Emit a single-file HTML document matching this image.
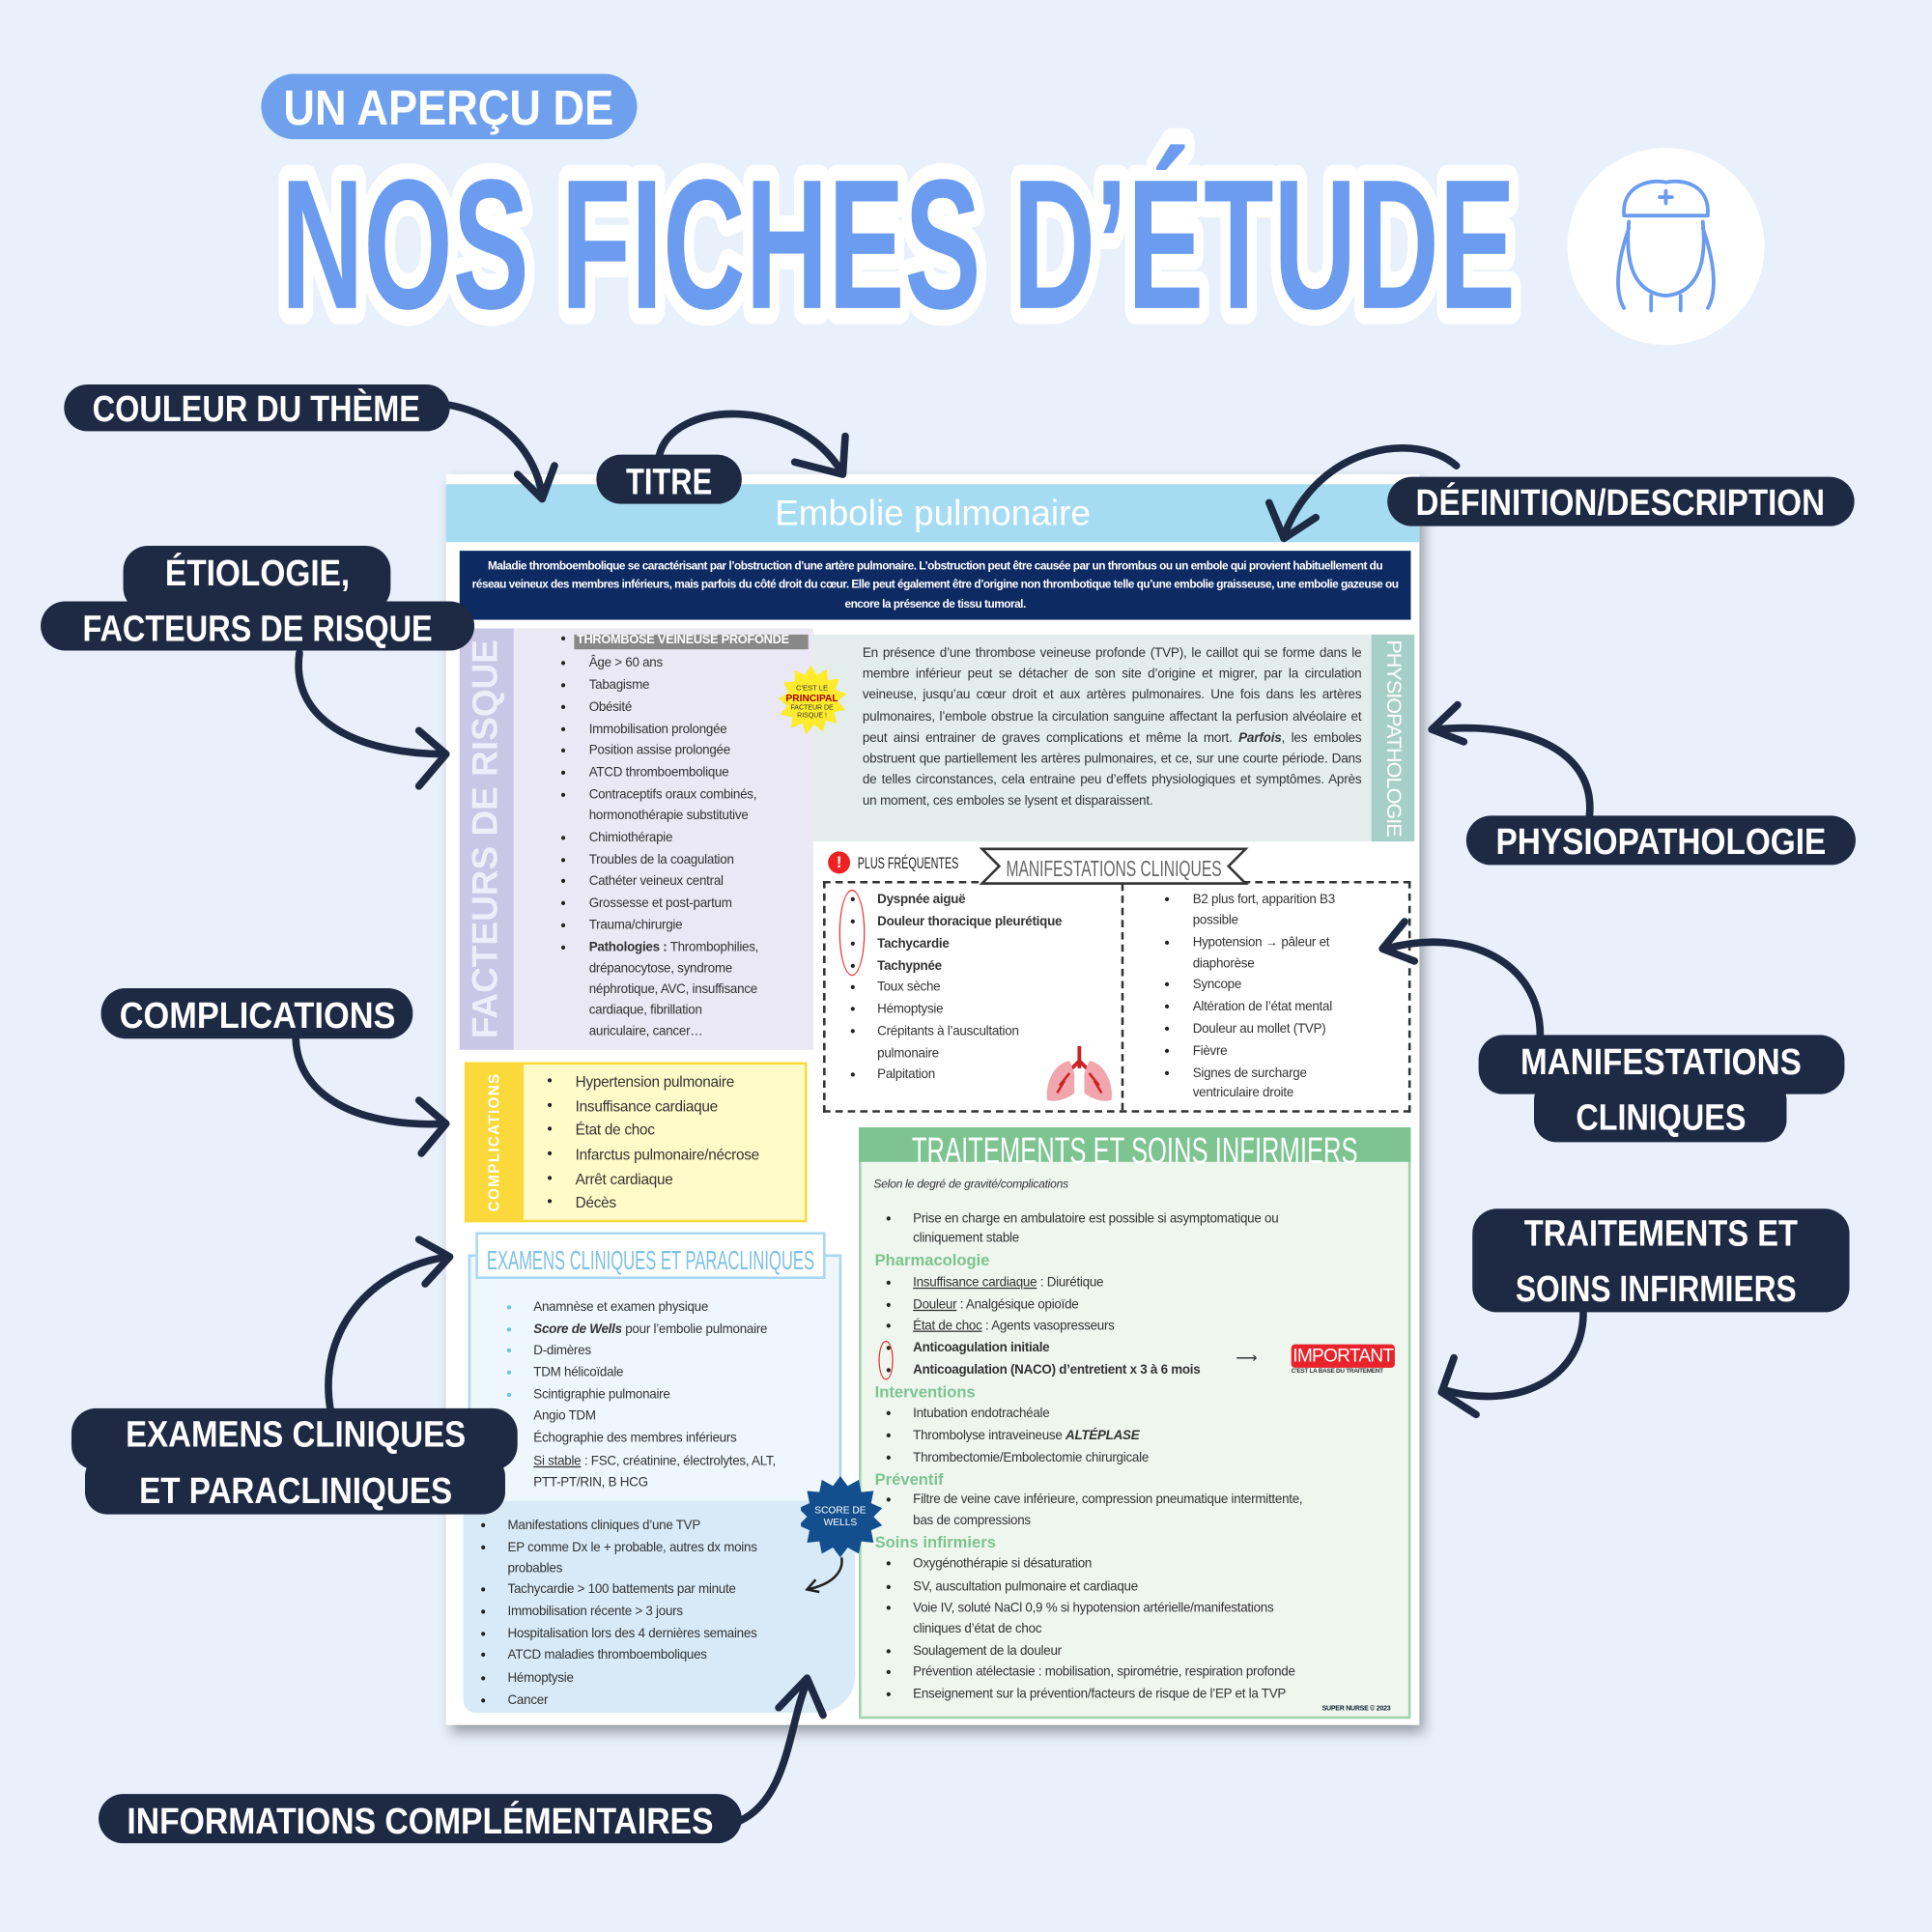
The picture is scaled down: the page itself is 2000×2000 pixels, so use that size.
<!DOCTYPE html>
<html><head><meta charset="utf-8">
<style>
*{margin:0;padding:0;box-sizing:border-box}
html,body{width:2000px;height:2000px;overflow:hidden;background:#e8f0fb}
#w{position:absolute;left:0;top:0;width:1568px;height:1568px;transform:scale(1.27551);transform-origin:0 0;font-family:"Liberation Sans",sans-serif}
.a{position:absolute}
.doc{left:362px;top:385px;width:790px;height:1015px;background:#fff;box-shadow:4px 6px 10px rgba(0,0,0,.35)}
.t{position:absolute;font-size:10.5px;color:#333;white-space:nowrap;font-family:"Liberation Sans Narrow","Liberation Sans",sans-serif;letter-spacing:-.2px}
.b{position:absolute;font-size:12px;color:#222}
.g{position:absolute;font-size:13px;font-weight:bold;color:#7cc48e;white-space:nowrap}
</style></head><body><div id="w">

<div class="a" style="left:212px;top:60px;width:305px;height:53px;background:#6fa0ee;border-radius:27px"></div>
<svg class="a" style="left:0;top:0" width="1568" height="300">
<text x="230" y="101" font-family="Liberation Sans" font-weight="bold" font-size="40" fill="#fff" textLength="268" lengthAdjust="spacingAndGlyphs">UN APERÇU DE</text>
<text x="228" y="250" font-family="Liberation Sans" font-weight="bold" font-size="150" fill="#6b9cf0" stroke="#fff" stroke-width="26" stroke-linejoin="round" paint-order="stroke fill" textLength="1002" lengthAdjust="spacingAndGlyphs">NOS FICHES D’ÉTUDE</text>
<circle cx="1352" cy="200" r="80" fill="#fff"/>
<g fill="none" stroke="#6b9cf0" stroke-width="3" stroke-linejoin="round" stroke-linecap="round">
<path d="M1318,175 C1316,150 1340,145 1352,148 C1366,145 1388,150 1386,175 Z"/>
<path d="M1347,160 h10 M1352,155 v10"/>
<path d="M1322,180 C1318,220 1330,238 1352,240 C1374,238 1386,220 1382,180"/>
<path d="M1322,185 C1310,220 1312,240 1318,250 M1382,185 C1394,220 1392,240 1386,250"/>
<path d="M1340,240 v12 M1364,240 v12"/>
</g>
</svg>

<div class="a doc">
 <div class="a" style="left:0;top:8px;width:790px;height:47px;background:#a6dcf2"></div>
 <div class="a" style="left:0;top:16px;width:790px;text-align:center;color:#fff;font-size:29px;">Embolie pulmonaire</div>
 <div class="a" style="left:11px;top:62px;width:772px;height:56px;background:#0e2a63;color:#fff;font-size:9.3px;font-weight:bold;text-align:center;line-height:15.3px;padding:5px 10px 0;letter-spacing:-.4px">Maladie thromboembolique se caractérisant par l’obstruction d’une artère pulmonaire. L’obstruction peut être causée par un thrombus ou un embole qui provient habituellement du réseau veineux des membres inférieurs, mais parfois du côté droit du cœur. Elle peut également être d’origine non thrombotique telle qu’une embolie graisseuse, une embolie gazeuse ou encore la présence de tissu tumoral.</div>
</div>

<div class="a" style="left:373px;top:510px;width:44px;height:342px;background:#c9c6e6"></div>
<div class="a" style="left:417px;top:510px;width:243px;height:342px;background:#e9e8f4"></div>
<div class="a" style="left:395px;top:681px;transform:translate(-50%,-50%) rotate(-90deg);color:#eeeefa;font-weight:bold;font-size:29px;white-space:nowrap">FACTEURS DE RISQUE</div>
<div class="a" style="left:466px;top:515px;width:190px;height:12px;background:#888;"></div>
<div class="t" style="left:468px;top:514px;color:#fff;font-weight:bold;font-size:10px">THROMBOSE VEINEUSE PROFONDE</div>
<div class="b" style="left:455px;top:511px">•</div>
<div id="fr"></div>

<div class="a" style="left:660px;top:515px;width:453px;height:168px;background:#e3eeec"></div>
<div class="a" style="left:1113px;top:515px;width:35px;height:168px;background:#a6cfc7"></div>
<div class="a" style="left:1131px;top:599px;transform:translate(-50%,-50%) rotate(90deg);color:#fff;font-size:17px;white-space:nowrap;letter-spacing:-.8px">PHYSIOPATHOLOGIE</div>
<div class="a" style="left:700px;top:522px;width:405px;font-size:10.6px;line-height:17.2px;text-align:justify;color:#333;font-family:'Liberation Sans Narrow','Liberation Sans',sans-serif;letter-spacing:-.15px">En présence d’une thrombose veineuse profonde (TVP), le caillot qui se forme dans le membre inférieur peut se détacher de son site d’origine et migrer, par la circulation veineuse, jusqu’au cœur droit et aux artères pulmonaires. Une fois dans les artères pulmonaires, l’embole obstrue la circulation sanguine affectant la perfusion alvéolaire et peut ainsi entrainer de graves complications et même la mort. <b><i>Parfois</i></b>, les emboles obstruent que partiellement les artères pulmonaires, et ce, sur une courte période. Dans de telles circonstances, cela entraine peu d’effets physiologiques et symptômes. Après un moment, ces emboles se lysent et disparaissent.</div>
<svg class="a" style="left:630px;top:538px" width="60" height="64"><polygon fill="#fdeb2c" points="28,2 33,10 41,5 42,14 51,13 48,22 57,25 50,31 56,38 47,40 49,49 40,47 38,56 31,50 24,58 21,49 12,53 13,44 3,42 9,35 2,29 10,24 6,16 15,15 15,6 23,10"/><text x="29" y="22" font-size="6" text-anchor="middle" fill="#333">C'EST LE</text><text x="29" y="31" font-size="8" text-anchor="middle" fill="#a00" font-weight="bold">PRINCIPAL</text><text x="29" y="38" font-size="5.5" text-anchor="middle" fill="#333">FACTEUR DE</text><text x="29" y="44" font-size="5.5" text-anchor="middle" fill="#333">RISQUE !</text></svg>

<div class="a" style="left:668px;top:715px;width:477px;height:188px;border:2px dashed #333"></div>
<div class="a" style="left:910px;top:717px;height:184px;border-left:2px dashed #333"></div>
<div class="a" style="left:672px;top:691px;width:18px;height:18px;border-radius:50%;background:#e22;color:#fff;font-weight:bold;font-size:13px;text-align:center;line-height:18px">!</div>
<svg class="a" style="left:695px;top:690px" width="95" height="20"><text x="1" y="15" font-size="13" fill="#222" textLength="82" lengthAdjust="spacingAndGlyphs">PLUS FRÉQUENTES</text></svg>
<svg class="a" style="left:793px;top:686px" width="222" height="34"><polygon points="4,3 218,3 204,17 218,31 4,31 18,17" fill="#fff" stroke="#333" stroke-width="2"/><text x="111" y="25" font-size="18" text-anchor="middle" fill="#666" textLength="175" lengthAdjust="spacingAndGlyphs">MANIFESTATIONS CLINIQUES</text></svg>
<div class="a" style="left:681px;top:722px;width:21px;height:70px;border:1.5px solid #e33;border-radius:50%"></div>
<div id="mf"></div>
<svg class="a" style="left:846px;top:847px" width="64" height="50"><path d="M30,2 v18 M30,14 l-8,8 M30,14 l8,8" stroke="#c22" stroke-width="3" fill="none"/><path d="M22,14 C8,16 2,35 4,46 C12,48 22,44 26,40 L26,24 Z M38,14 C52,16 58,35 56,46 C48,48 38,44 34,40 L34,24 Z" fill="#f1a6ae"/><path d="M22,24 l-8,10 M38,24 l8,10 M18,30 l-6,10 M42,30 l6,10" stroke="#c22" stroke-width="2"/></svg>

<div class="a" style="left:377px;top:862px;width:278px;height:130px;background:#fffbc8;border:2px solid #fcd93a"></div>
<div class="a" style="left:377px;top:862px;width:48px;height:130px;background:#fcd93a"></div>
<div class="a" style="left:401px;top:927px;transform:translate(-50%,-50%) rotate(-90deg);color:#fff;font-size:12px;font-weight:bold;letter-spacing:1px;white-space:nowrap">COMPLICATIONS</div>
<div id="cp"></div>

<div class="a" style="left:380px;top:1018px;width:303px;height:202px;background:#eef7fd;border:2px solid #a8d8f2;border-bottom:none"></div>
<div class="a" style="left:386px;top:1000px;width:284px;height:38px;background:#fff;border:2px solid #a8d8f2"></div>
<svg class="a" style="left:388px;top:1003px" width="280" height="34"><text x="140" y="27" font-size="22" text-anchor="middle" fill="#7cc0e6" textLength="266" lengthAdjust="spacingAndGlyphs">EXAMENS CLINIQUES ET PARACLINIQUES</text></svg>
<div class="a" style="left:376px;top:1218px;width:318px;height:172px;background:#d8eaf7;border-radius:4px 20px 30px 10px"></div>
<div id="ex"></div>

<div class="a" style="left:697px;top:915px;width:448px;height:480px;background:#eef6ee;border:2px solid #9fd3ab"></div>
<div class="a" style="left:697px;top:915px;width:448px;height:28px;background:#7dc491"></div>
<svg class="a" style="left:700px;top:910px" width="442" height="40"><text x="221" y="34" font-size="30" text-anchor="middle" fill="#fff" textLength="362" lengthAdjust="spacingAndGlyphs">TRAITEMENTS ET SOINS INFIRMIERS</text></svg>
<div class="t" style="left:709px;top:956px;font-style:italic;font-size:9.5px">Selon le degré de gravité/complications</div>
<div id="tr"></div>
<div class="a" style="left:713px;top:1088px;width:12px;height:32px;border:1.5px solid #e33;border-radius:50%"></div>
<div class="t" style="left:1003px;top:1095px;font-size:12px">⟶</div>
<div class="a" style="left:1048px;top:1091px;width:84px;height:19px;background:#e8232a;border-radius:3px;color:#fff;font-size:15px;text-align:center;line-height:19px;letter-spacing:-.6px">IMPORTANT</div>
<div class="t" style="left:1048px;top:1110px;font-size:5px;font-weight:bold">C'EST LA BASE DU TRAITEMENT</div>
<div class="t" style="left:1073px;top:1384px;font-size:5.5px;font-weight:bold;color:#123">SUPER NURSE © 2023</div>
<svg class="a" style="left:650px;top:1196px" width="70" height="104"><polygon fill="#134f8e" points="32,2 38,10 47,5 49,15 59,14 57,24 66,28 59,35 66,42 57,46 59,56 49,55 47,65 38,60 32,68 26,60 17,65 15,55 5,56 7,46 -2,42 5,35 -2,28 7,24 5,14 15,15 17,5 26,10"/><text x="32" y="32" font-size="8" fill="#fff" text-anchor="middle">SCORE DE</text><text x="32" y="42" font-size="8" fill="#fff" text-anchor="middle">WELLS</text><path d="M33,68 C35,80 25,90 5,94 M12,86 l-7,8 10,2" stroke="#222" stroke-width="2" fill="none"/></svg>

<svg class="a" style="left:0;top:0" width="1568" height="1568">
<g fill="#1e2a44">
<rect x="52" y="312" width="313" height="38" rx="19"/>
<rect x="484" y="369" width="118" height="40" rx="20"/>
<rect x="1126" y="387" width="379" height="40" rx="20"/>
<rect x="100" y="443" width="217" height="54" rx="20"/>
<rect x="33" y="488" width="352" height="40" rx="20"/>
<rect x="82" y="802" width="253" height="41" rx="20"/>
<rect x="1190" y="662" width="316" height="40" rx="20"/>
<rect x="1200" y="840" width="297" height="48" rx="20"/>
<rect x="1245" y="875" width="205" height="52" rx="18"/>
<rect x="1195" y="981" width="306" height="84" rx="20"/>
<rect x="58" y="1143" width="362" height="50" rx="20"/>
<rect x="69" y="1180" width="341" height="49" rx="18"/>
<rect x="80" y="1456" width="522" height="40" rx="20"/>
</g>
<g fill="#fff" font-family="Liberation Sans" font-weight="bold" font-size="30" text-anchor="middle">
<text x="208" y="342" textLength="266" lengthAdjust="spacingAndGlyphs">COULEUR DU THÈME</text>
<text x="543" y="401" textLength="70" lengthAdjust="spacingAndGlyphs">TITRE</text>
<text x="1315" y="418" textLength="332" lengthAdjust="spacingAndGlyphs">DÉFINITION/DESCRIPTION</text>
<text x="209" y="475" textLength="150" lengthAdjust="spacingAndGlyphs">ÉTIOLOGIE,</text>
<text x="209" y="520" textLength="284" lengthAdjust="spacingAndGlyphs">FACTEURS DE RISQUE</text>
<text x="209" y="834" textLength="224" lengthAdjust="spacingAndGlyphs">COMPLICATIONS</text>
<text x="1348" y="693" textLength="268" lengthAdjust="spacingAndGlyphs">PHYSIOPATHOLOGIE</text>
<text x="1348" y="872" textLength="228" lengthAdjust="spacingAndGlyphs">MANIFESTATIONS</text>
<text x="1348" y="917" textLength="138" lengthAdjust="spacingAndGlyphs">CLINIQUES</text>
<text x="1348" y="1011" textLength="222" lengthAdjust="spacingAndGlyphs">TRAITEMENTS ET</text>
<text x="1344" y="1056" textLength="228" lengthAdjust="spacingAndGlyphs">SOINS INFIRMIERS</text>
<text x="240" y="1174" textLength="276" lengthAdjust="spacingAndGlyphs">EXAMENS CLINIQUES</text>
<text x="240" y="1220" textLength="254" lengthAdjust="spacingAndGlyphs">ET PARACLINIQUES</text>
<text x="341" y="1488" textLength="476" lengthAdjust="spacingAndGlyphs">INFORMATIONS COMPLÉMENTAIRES</text>
</g>
<g fill="none" stroke="#1e2a44" stroke-width="6" stroke-linecap="round" stroke-linejoin="round">
<path d="M360,328 C410,335 435,370 440,402 M420,385 L440,405 L450,378"/>
<path d="M535,370 C545,325 645,320 683,383 M645,375 L684,385 L686,354"/>
<path d="M1182,378 C1150,350 1070,360 1042,435 M1030,408 L1042,437 L1068,420"/>
<path d="M243,530 C235,590 300,612 360,612 M340,593 L362,612 L340,638"/>
<path d="M1290,662 C1295,610 1240,585 1165,592 M1183,572 L1162,592 L1188,602"/>
<path d="M1250,840 C1250,780 1190,752 1125,770 M1140,748 L1122,770 L1148,780"/>
<path d="M240,843 C242,895 300,915 360,912 M340,893 L362,912 L342,936"/>
<path d="M268,1143 C258,1080 300,1030 363,1020 M340,1006 L365,1020 L345,1042"/>
<path d="M1285,1065 C1285,1120 1230,1145 1172,1128 M1180,1102 L1170,1130 L1198,1148"/>
<path d="M600,1478 C640,1460 640,1400 655,1365 M632,1386 L655,1362 L668,1392"/>
</g>
</svg>

<script>
function L(id,bx,tx,items,opt){opt=opt||{};var h='';items.forEach(function(it){var y=it[0],s=it[1],nb=it[2];if(!nb)h+='<div class="b" style="left:'+bx+'px;top:'+(y-8)+'px;color:'+(opt.bc||'#222')+'">•</div>';h+='<div class="t" style="left:'+tx+'px;top:'+(y-7)+'px;'+(opt.st||'')+'">'+s+'</div>';});document.getElementById(id).innerHTML=h;}
L('fr',455,478,[[539,'Âge &gt; 60 ans'],[557,'Tabagisme'],[575,'Obésité'],[593,'Immobilisation prolongée'],[610,'Position assise prolongée'],[628,'ATCD thromboembolique'],[646,'Contraceptifs oraux combinés,'],[663,'hormonothérapie substitutive',1],[681,'Chimiothérapie'],[699,'Troubles de la coagulation'],[716,'Cathéter veineux central'],[734,'Grossesse et post-partum'],[752,'Trauma/chirurgie'],[770,'<b>Pathologies :</b> Thrombophilies,'],[787,'drépanocytose, syndrome',1],[804,'néphrotique, AVC, insuffisance',1],[821,'cardiaque, fibrillation',1],[838,'auriculaire, cancer…',1]]);
L('mf',690,712,[[731,'<b>Dyspnée aiguë</b>'],[749,'<b>Douleur thoracique pleurétique</b>'],[767,'<b>Tachycardie</b>'],[785,'<b>Tachypnée</b>'],[802,'Toux sèche'],[820,'Hémoptysie'],[838,'Crépitants à l’auscultation'],[856,'pulmonaire',1],[873,'Palpitation']]);
var mf=document.getElementById('mf').innerHTML;
L('mf',945,968,[[731,'B2 plus fort, apparition B3'],[748,'possible',1],[766,'Hypotension → pâleur et'],[783,'diaphorèse',1],[800,'Syncope'],[818,'Altération de l’état mental'],[836,'Douleur au mollet (TVP)'],[854,'Fièvre'],[872,'Signes de surcharge'],[888,'ventriculaire droite',1]]);
document.getElementById('mf').innerHTML+=mf;
L('cp',444,467,[[878,'Hypertension pulmonaire'],[898,'Insuffisance cardiaque'],[917,'État de choc'],[937,'Infarctus pulmonaire/nécrose'],[957,'Arrêt cardiaque'],[976,'Décès']],{st:'font-size:12px'});
L('ex',411,433,[[1062,'Anamnèse et examen physique'],[1080,'<b><i>Score de Wells</i></b> pour l’embolie pulmonaire'],[1097,'D-dimères'],[1115,'TDM hélicoïdale'],[1133,'Scintigraphie pulmonaire'],[1150,'Angio TDM',1],[1168,'Échographie des membres inférieurs',1],[1187,'<u>Si stable</u> : FSC, créatinine, électrolytes, ALT,'],[1204,'PTT-PT/RIN, B HCG',1]],{bc:'#6cc0ee'});
var ex=document.getElementById('ex').innerHTML;
L('ex',390,412,[[1239,'Manifestations cliniques d’une TVP'],[1257,'EP comme Dx le + probable, autres dx moins'],[1274,'probables',1],[1291,'Tachycardie &gt; 100 battements par minute'],[1309,'Immobilisation récente &gt; 3 jours'],[1327,'Hospitalisation lors des 4 dernières semaines'],[1344,'ATCD maladies thromboemboliques'],[1363,'Hémoptysie'],[1381,'Cancer']]);
document.getElementById('ex').innerHTML=ex+document.getElementById('ex').innerHTML;
L('tr',719,741,[[990,'Prise en charge en ambulatoire est possible si asymptomatique ou'],[1006,'cliniquement stable',1],[1042,'<u>Insuffisance cardiaque</u> : Diurétique'],[1060,'<u>Douleur</u> : Analgésique opioïde'],[1077,'<u>État de choc</u> : Agents vasopresseurs'],[1095,'<b>Anticoagulation initiale</b>'],[1113,'<b>Anticoagulation (NACO) d’entretient x 3 à 6 mois</b>'],[1148,'Intubation endotrachéale'],[1166,'Thrombolyse intraveineuse <b><i>ALTÉPLASE</i></b>'],[1184,'Thrombectomie/Embolectomie chirurgicale'],[1218,'Filtre de veine cave inférieure, compression pneumatique intermittente,'],[1235,'bas de compressions',1],[1270,'Oxygénothérapie si désaturation'],[1289,'SV, auscultation pulmonaire et cardiaque'],[1306,'Voie IV, soluté NaCl 0,9 % si hypotension artérielle/manifestations'],[1323,'cliniques d’état de choc',1],[1341,'Soulagement de la douleur'],[1358,'Prévention atélectasie : mobilisation, spirométrie, respiration profonde'],[1376,'Enseignement sur la prévention/facteurs de risque de l’EP et la TVP']]);
document.getElementById('tr').innerHTML+='<div class="g" style="left:710px;top:1015px">Pharmacologie</div><div class="g" style="left:710px;top:1122px">Interventions</div><div class="g" style="left:710px;top:1193px">Préventif</div><div class="g" style="left:710px;top:1244px">Soins infirmiers</div>';
</script>
</div></body></html>
